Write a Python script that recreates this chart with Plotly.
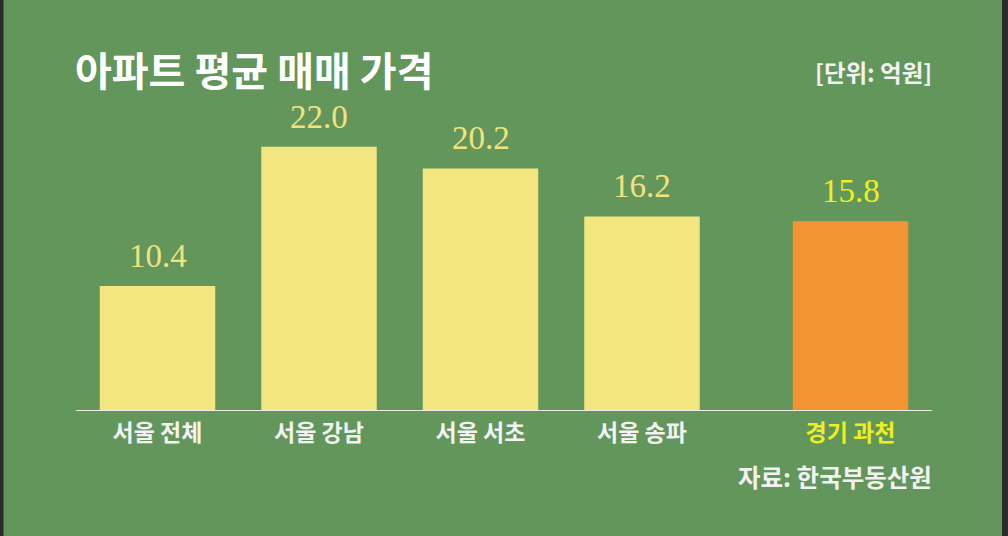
import plotly.graph_objects as go

# ---- data ----
seoul_categories = ["서울 전체", "서울 강남", "서울 서초", "서울 송파"]
seoul_values = [10.4, 22.0, 20.2, 16.2]
gyeonggi_categories = ["경기 과천"]
gyeonggi_values = [15.8]

title_text = "아파트 평균 매매 가격"
unit_text = "[단위: 억원]"
source_text = "자료: 한국부동산원"

# ---- styles ----
W, H = 1008, 536
BG = "#62965b"
YELLOW_BAR = "#f3e681"
ORANGE_BAR = "#f39433"
PALE_TEXT = "#f3e27e"
BRIGHT_TEXT = "#eeee22"
LABEL_WHITE = "#f2f2f2"
KR = "Noto Sans CJK KR"
SERIF = "Liberation Serif"

def px_x(p):
    return p / W

def px_y(p):
    return 1 - p / H

fig = go.Figure()
fig.add_trace(go.Bar(x=seoul_categories, y=seoul_values, marker_color=YELLOW_BAR,
                     marker_line_width=0, xaxis="x", yaxis="y", hoverinfo="skip"))
fig.add_trace(go.Bar(x=gyeonggi_categories, y=gyeonggi_values, marker_color=ORANGE_BAR,
                     marker_line_width=0, xaxis="x2", yaxis="y", hoverinfo="skip"))

annotations = []
for c, v in zip(seoul_categories, seoul_values):
    annotations.append(dict(x=c, y=v, xref="x", yref="y", text=f"{v:.1f}", showarrow=False,
                            yanchor="bottom", yshift=10,
                            font=dict(family=SERIF, size=33, color=PALE_TEXT)))
for c, v in zip(gyeonggi_categories, gyeonggi_values):
    annotations.append(dict(x=c, y=v, xref="x2", yref="y", text=f"{v:.1f}", showarrow=False,
                            yanchor="bottom", yshift=10,
                            font=dict(family=SERIF, size=33, color=BRIGHT_TEXT)))

annotations.append(dict(x=px_x(73), y=px_y(69), xref="paper", yref="paper", text=title_text,
                        showarrow=False, xanchor="left", yanchor="middle",
                        font=dict(family=KR, size=40, color="white", weight=700)))
annotations.append(dict(x=px_x(934), y=px_y(72), xref="paper", yref="paper", text=unit_text,
                        showarrow=False, xanchor="right", yanchor="middle",
                        font=dict(family=KR, size=23.5, color=LABEL_WHITE, weight=700)))
annotations.append(dict(x=px_x(934), y=px_y(476), xref="paper", yref="paper", text=source_text,
                        showarrow=False, xanchor="right", yanchor="middle",
                        font=dict(family=KR, size=24.5, color=LABEL_WHITE, weight=700)))

shapes = [
    dict(type="line", xref="paper", yref="y", x0=px_x(76), x1=px_x(932), y0=0, y1=0,
         line=dict(color="#ecece4", width=2)),
    dict(type="rect", xref="paper", yref="paper", x0=-0.01, x1=px_x(3.5), y0=-0.01, y1=1.01,
         fillcolor="#2b2b2b", line_width=0, layer="above"),
    dict(type="rect", xref="paper", yref="paper", x0=px_x(1002), x1=1.01, y0=-0.01, y1=1.01,
         fillcolor="#2b2b2b", line_width=0, layer="above"),
]

fig.update_layout(
    width=W, height=H,
    margin=dict(l=0, r=0, t=0, b=0),
    paper_bgcolor=BG, plot_bgcolor=BG,
    showlegend=False,
    bargap=0.285,
    xaxis=dict(domain=[px_x(76.75), px_x(722.75)], anchor="y", showgrid=False, zeroline=False,
               showline=False, ticks="", ticklabelstandoff=6,
               tickfont=dict(family=KR, size=23, color=LABEL_WHITE, weight=700)),
    xaxis2=dict(domain=[px_x(769.75), px_x(931.25)], anchor="y", showgrid=False, zeroline=False,
                showline=False, ticks="", ticklabelstandoff=6,
                tickfont=dict(family=KR, size=23, color=BRIGHT_TEXT, weight=700)),
    yaxis=dict(domain=[125 / H, 436 / H], range=[0, 311 / 12.01], visible=False,
               showgrid=False, zeroline=False),
    annotations=annotations,
    shapes=shapes,
)

fig.write_html("out.html", config={"displayModeBar": False},
               post_script="document.body.style.margin='0';document.body.style.overflow='hidden';")
